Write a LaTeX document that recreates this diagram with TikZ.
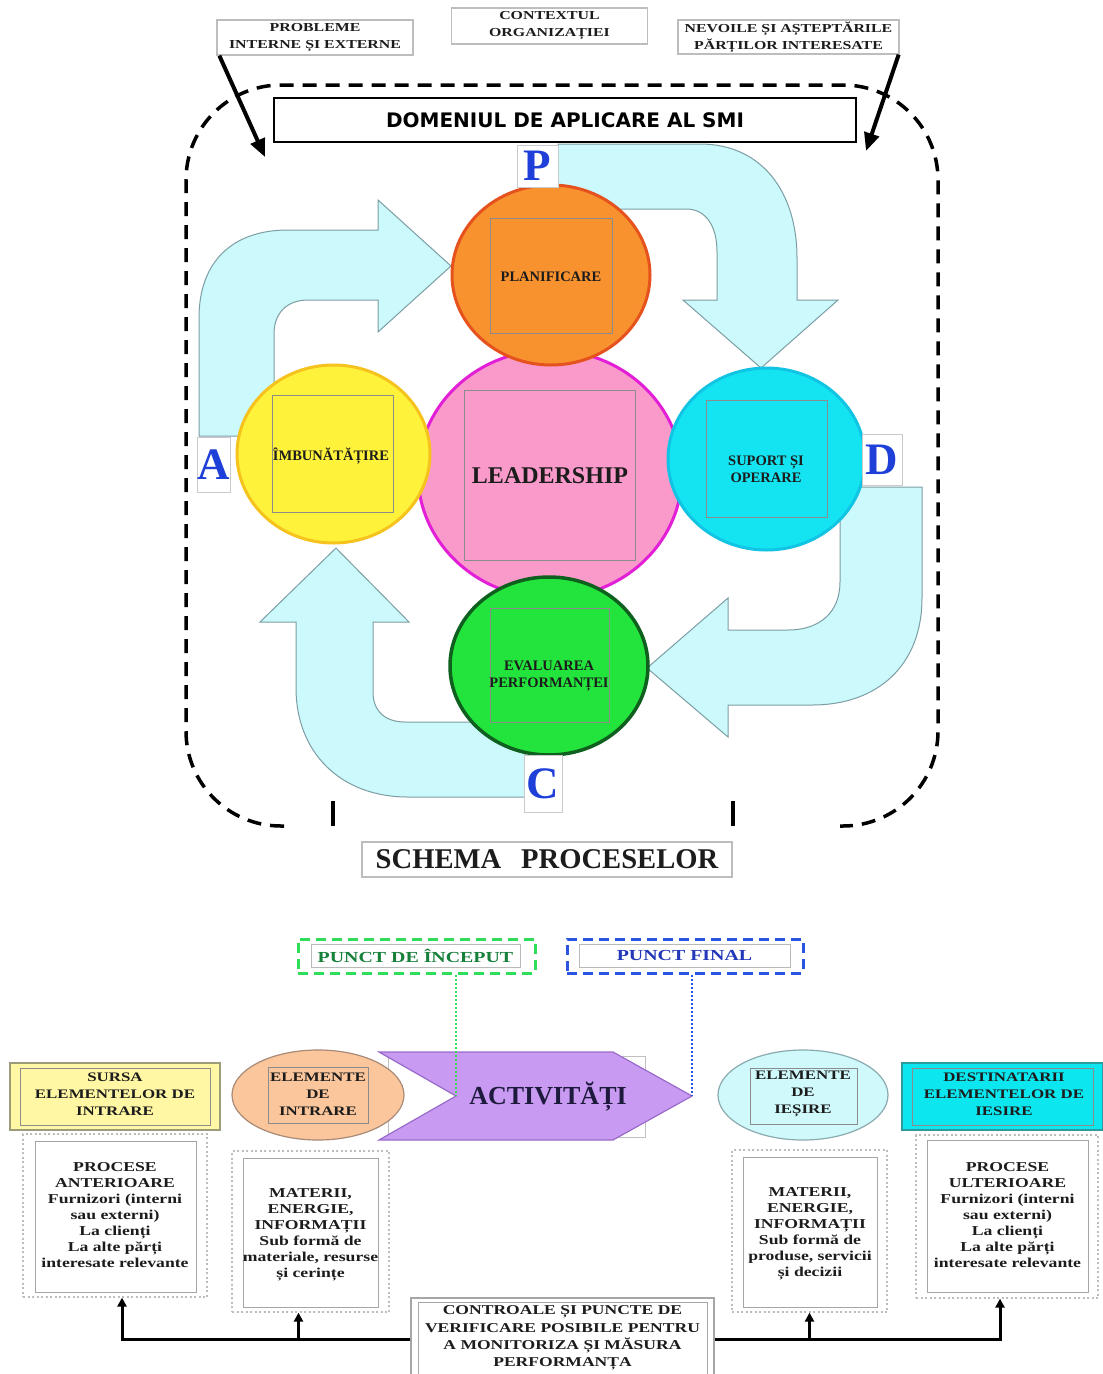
\documentclass[tikz,border=0pt]{standalone}
\usepackage{fontspec}
\setmainfont{Liberation Serif}
\newfontfamily\widserif[FakeStretch=1.3]{Liberation Serif}
\newfontfamily\sansbold{DejaVu Sans}
\usetikzlibrary{shapes.geometric,arrows.meta}

\definecolor{afill}{HTML}{CCFAFC}
\definecolor{aline}{HTML}{7C9DA3}
\definecolor{lblue}{HTML}{1E3FD8}
\definecolor{planfill}{HTML}{F7922F}
\definecolor{planline}{HTML}{E6521E}
\definecolor{leadfill}{HTML}{F99ACB}
\definecolor{leadline}{HTML}{E21FD6}
\definecolor{imbfill}{HTML}{FFF23A}
\definecolor{imbline}{HTML}{F6C21E}
\definecolor{supfill}{HTML}{14E4F2}
\definecolor{supline}{HTML}{12C4E4}
\definecolor{evfill}{HTML}{22E43C}
\definecolor{evline}{HTML}{0F5F1F}
\definecolor{sqline}{HTML}{8C8C8C}
\definecolor{txt}{HTML}{1C1C1C}
\definecolor{sgreen}{HTML}{2EDD5A}
\definecolor{sgreentxt}{HTML}{17803A}
\definecolor{fblue}{HTML}{2A55E0}
\definecolor{fbluetxt}{HTML}{2238B8}
\definecolor{actfill}{HTML}{C99AF2}
\definecolor{actline}{HTML}{9A6ACB}
\definecolor{acttxt}{HTML}{1E1A3E}
\definecolor{sursafill}{HTML}{FFF7A3}
\definecolor{sursaline}{HTML}{9C9C7A}
\definecolor{intfill}{HTML}{FBC69C}
\definecolor{intline}{HTML}{A88A76}
\definecolor{iesfill}{HTML}{CFF9FB}
\definecolor{iesline}{HTML}{8AAAB0}
\definecolor{destfill}{HTML}{0CE6EF}
\definecolor{destline}{HTML}{2B9C9E}
\definecolor{boxgray}{HTML}{BDBDBD}

\begin{document}
\begin{tikzpicture}[x=1pt,y=-1pt,
  topbox/.style={draw=boxgray, line width=1.3pt, fill=white, inner sep=0pt, align=center, text=txt,
    font=\widserif\bfseries\fontsize{12.2}{17}\selectfont},
  blackarrow/.style={line width=4pt, -{Triangle[length=18pt,width=15pt]}},
  dframe/.style={line width=3.5pt, dash pattern=on 14pt off 9pt, rounded corners=95pt},
  blockarrow/.style={fill=afill, draw=aline, line width=1pt, line join=miter},
  circ/.style={ellipse, inner sep=0pt, line width=3pt},
  sq/.style={draw=sqline, line width=0.8pt},
  ctext/.style={align=center, text=txt, inner sep=0pt, font=\bfseries\fontsize{14.5}{17}\selectfont},
  letbox/.style={draw=boxgray!80, line width=1pt, fill=white, inner sep=0pt, text=lblue,
    font=\bfseries\fontsize{45}{45}\selectfont},
  btext/.style={align=center, text=txt, inner sep=0pt, font=\widserif\bfseries\fontsize{13.6}{16}\selectfont},
  htext/.style={align=center, text=txt, inner sep=0pt, font=\widserif\bfseries\fontsize{13}{17}\selectfont},
  dotframe/.style={draw=boxgray, line width=1.2pt, dash pattern=on 2pt off 2.5pt, inner sep=0pt},
  inbox/.style={draw=gray!70, line width=1pt},
  conn/.style={line width=3pt, -{Triangle[length=9pt,width=9pt]}},
  dashbox/.style={line width=3pt, dash pattern=on 10pt off 6pt, inner sep=0pt},
  pdot/.style={line width=2.4pt, dash pattern=on 2pt off 2pt}
]
\useasboundingbox (0,0) rectangle (1103,1374);
\clip (0,0) rectangle (1103,1374);
\fill[white] (0,0) rectangle (1103,1374);

% ---------- top part ----------
\draw[dframe] (284,826) -- (186,826) -- (186,85) -- (938,85) -- (938,826) -- (840,826);
\draw[line width=4pt] (333,801) -- (333,826);
\draw[line width=4pt] (733,801) -- (733,826);

\node[topbox, minimum width=196pt, minimum height=35pt] (probleme) at (315,37.5) {PROBLEME\\INTERNE ȘI EXTERNE};
\node[topbox, minimum width=196pt, minimum height=36pt] (context) at (549.5,26) {CONTEXTUL\\ORGANIZAȚIEI};
\node[topbox, minimum width=221pt, minimum height=34pt] (nevoi) at (788.5,37) {NEVOILE ȘI AȘTEPTĂRILE\\PĂRȚILOR INTERESATE};

\node[draw, line width=2pt, fill=white, inner sep=0pt, minimum width=582pt, minimum height=44pt,
  font=\sansbold\bfseries\fontsize{20}{22}\selectfont] (domeniu) at (565,120) {DOMENIUL DE APLICARE AL SMI};

\coordinate (pend) at (265,157);
\coordinate (nend) at (866,151);
\draw[blackarrow] ([xshift=3pt]probleme.south west) -- (pend);
\draw[blackarrow] ([xshift=-1pt]nevoi.south east) -- (nend);

% block arrows
\filldraw[blockarrow] (199,436) -- (199,318) .. controls (199,262) and (232,230) .. (288,230) -- (378,230) -- (378,200) -- (451,266) -- (378,332) -- (378,300) -- (308,300) .. controls (287,300) and (274,313) .. (274,334) -- (274,436) -- cycle;
\filldraw[blockarrow] (558,144) -- (700,144) .. controls (762,144) and (797,192) .. (797,258) -- (797,300) -- (838,300) -- (761,368) -- (683,300) -- (717,300) -- (717,252) .. controls (717,226) and (706,209) .. (686,209) -- (558,209) -- cycle;
\filldraw[blockarrow] (842,487) -- (922,487) -- (922,598) .. controls (922,665) and (878,705) .. (812,705) -- (728,705) -- (728,737) -- (647,668) -- (728,598) -- (728,630) -- (788,630) .. controls (820,630) and (840,612) .. (840,582) -- (840,487) -- cycle;
\filldraw[blockarrow] (525,797) -- (408,797) .. controls (340,797) and (296,752) .. (296,688) -- (296,622) -- (260,622) -- (336,548) -- (409,622) -- (373,622) -- (373,692) .. controls (373,711) and (385,722) .. (405,722) -- (525,722) -- cycle;

% circles
\node[circ, fill=leadfill, draw=leadline, minimum width=264pt, minimum height=248pt] (lead) at (550,474) {};
\node[circ, fill=planfill, draw=planline, minimum width=198pt, minimum height=180pt] (plan) at (551,275) {};
\node[circ, fill=imbfill, draw=imbline, minimum width=193pt, minimum height=178pt] (imb) at (333.5,454) {};
\node[circ, fill=supfill, draw=supline, minimum width=197pt, minimum height=182pt] (sup) at (766.5,459) {};
\node[circ, fill=evfill, draw=evline, line width=3.5pt, minimum width=198pt, minimum height=178pt] (ev) at (549,666) {};

\draw[sq] (490,218) rectangle (612,333);
\draw[sq] (272,395) rectangle (393,512);
\draw[sq] (464,390) rectangle (635,560);
\draw[sq] (706,400) rectangle (827,517);
\draw[sq] (490,608) rectangle (609,722);

\node[ctext] (plant) at (551,277) {PLANIFICARE};
\node[ctext] (imbt) at (331,456) {ÎMBUNĂTĂȚIRE};
\node[ctext, font=\bfseries\fontsize{24}{26}\selectfont] (leadt) at (550,476) {LEADERSHIP};
\node[ctext] (supt) at (766,469) {SUPORT ȘI\\OPERARE};
\node[ctext] (evt) at (549,676) {EVALUAREA\\PERFORMANȚEI};

\node[letbox, minimum width=41pt, minimum height=42pt] (pbox) at (537.5,166) {P};
\node[letbox, minimum width=32pt, minimum height=55pt] (abox) at (214,464.5) {A};
\node[letbox, minimum width=40pt, minimum height=51pt] (dbox) at (882,459.5) {D};
\node[letbox, minimum width=38pt, minimum height=57pt] (cbox) at (543,783.5) {C};

\node[draw=boxgray, line width=1.3pt, inner sep=0pt, minimum width=370pt, minimum height=35pt, text=txt,
  font=\bfseries\fontsize{28.6}{30}\selectfont] (schema) at (547,859.5) {SCHEMA\hspace{0.7em}PROCESELOR};

% ---------- bottom part ----------
\node[dashbox, draw=sgreen, minimum width=237pt, minimum height=34pt] (start) at (416.5,956) {};
\node[draw=gray!55, line width=1pt, inner sep=0pt, minimum width=209pt, minimum height=23pt, text=sgreentxt,
  font=\widserif\bfseries\fontsize{15.3}{17}\selectfont] (startt) at (415.5,955.5) {PUNCT DE ÎNCEPUT};
\node[dashbox, draw=fblue, minimum width=236pt, minimum height=34pt] (finale) at (685,956) {};
\node[draw=gray!55, line width=1pt, inner sep=0pt, minimum width=211pt, minimum height=23pt, text=fbluetxt,
  font=\widserif\bfseries\fontsize{15.3}{17}\selectfont] (finalet) at (684.5,955.5) {PUNCT FINAL};

\draw[draw=gray!50, line width=1pt] (388,1056) rectangle (645,1137);
\filldraw[fill=actfill, draw=actline, line width=1.2pt] (379,1052) -- (613,1052) -- (692,1096) -- (613,1140) -- (379,1140) -- (456,1096) -- cycle;
\coordinate (notch) at (456,1096);
\coordinate (tip) at (692,1096);
\node[inner sep=0pt, text=acttxt, font=\bfseries\fontsize{26}{28}\selectfont] (activ) at (548,1097) {ACTIVITĂȚI};

\draw[pdot, draw=sgreen] (start.south -| notch) -- (notch);
\draw[pdot, draw=fblue] (finale.south -| tip) -- (tip);

\node[draw=sursaline, fill=sursafill, line width=2pt, inner sep=0pt, minimum width=210pt, minimum height=67pt] (sursa) at (115,1096.5) {};
\draw[sq] (20,1068) rectangle (210,1125);
\node[htext] (sursat) at (115,1094) {SURSA\\ELEMENTELOR DE\\INTRARE};

\node[circ, line width=1.2pt, fill=intfill, draw=intline, minimum width=172pt, minimum height=90pt] (intr) at (318,1095) {};
\draw[sq] (268,1067) rectangle (368,1123);
\node[htext] (intrt) at (318,1094) {ELEMENTE\\DE\\INTRARE};

\node[circ, line width=1.2pt, fill=iesfill, draw=iesline, minimum width=170pt, minimum height=90pt] (ies) at (803,1095) {};
\draw[sq] (750,1068) rectangle (857,1124);
\node[htext] (iest) at (803,1094) {ELEMENTE\\DE\\IEȘIRE};

\node[draw=destline, fill=destfill, line width=2pt, inner sep=0pt, minimum width=201pt, minimum height=67pt] (dest) at (1002.5,1096.5) {};
\draw[sq] (912,1068) rectangle (1093,1125);
\node[htext] (destt) at (1004,1094) {DESTINATARII\\ELEMENTELOR DE\\IESIRE};

% lower boxes
\node[dotframe, minimum width=184pt, minimum height=163pt] (lframe) at (115,1215.5) {};
\draw[inbox] (35,1141) rectangle (196,1292);
\node[btext, anchor=north] (ltext) at (115,1162) {PROCESE\\ANTERIOARE\\Furnizori (interni\\sau externi)\\La clienți\\La alte părți\\interesate relevante};

\node[dotframe, minimum width=157pt, minimum height=161pt] (mframe) at (310.5,1231.5) {};
\draw[inbox] (243,1158) rectangle (378,1307);
\node[btext, anchor=north] (mtext) at (310.5,1188) {MATERII,\\ENERGIE,\\INFORMAȚII\\Sub formă de\\materiale, resurse\\și cerințe};

\node[dotframe, minimum width=155pt, minimum height=162pt] (oframe) at (809.5,1231) {};
\draw[inbox] (743,1157) rectangle (877,1307);
\node[btext, anchor=north] (otext) at (810,1187) {MATERII,\\ENERGIE,\\INFORMAȚII\\Sub formă de\\produse, servicii\\și decizii};

\node[dotframe, minimum width=182pt, minimum height=163pt] (rframe) at (1007,1216.5) {};
\draw[inbox] (927,1140) rectangle (1088,1292);
\node[btext, anchor=north] (rtext) at (1007.5,1162) {PROCESE\\ULTERIOARE\\Furnizori (interni\\sau externi)\\La clienți\\La alte părți\\interesate relevante};

\node[draw=gray!70, line width=1.3pt, fill=white, inner sep=0pt, minimum width=303pt, minimum height=82pt] (ctrl) at (562.5,1339) {};
\draw[inbox] (418,1302) rectangle (707,1378);
\node[align=center, text=txt, inner sep=0pt, font=\widserif\bfseries\fontsize{13.5}{17.3}\selectfont] (ctrlt) at (562.5,1338) {CONTROALE ȘI PUNCTE DE\\VERIFICARE POSIBILE PENTRU\\A MONITORIZA ȘI MĂSURA\\PERFORMANȚA};

\draw[conn] (ctrl.west) -| ([xshift=7pt]lframe.south);
\draw[conn] ([xshift=-12pt]mframe.south |- ctrl.west) -- ([xshift=-12pt]mframe.south);
\draw[conn] (ctrl.east) -| ([xshift=-7pt]rframe.south);
\draw[conn] (oframe.south |- ctrl.east) -- (oframe.south);
\end{tikzpicture}
\end{document}
